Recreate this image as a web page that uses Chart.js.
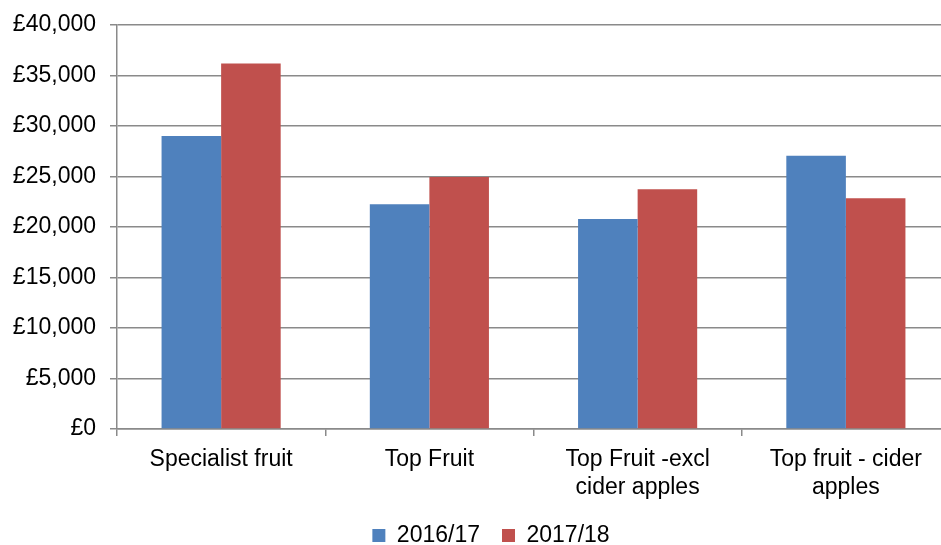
<!DOCTYPE html>
<html>
<head>
<meta charset="utf-8">
<script src="https://cdn.jsdelivr.net/npm/chart.js@4/dist/chart.umd.min.js"></script>
<style>
	html, body { margin: 0; padding: 0; background: #fff; overflow: hidden; }
	#wrap { width: 941px; height: 545px; overflow: hidden; }
	#box { width: 980px; height: 545px; }
</style>
</head>
<body>
<div id="wrap"><div id="box"><canvas id="chart"></canvas></div></div>
<script>
const categories = [
	"Specialist fruit",
	"Top Fruit",
	["Top Fruit -excl", "cider apples"],
	["Top fruit - cider", "apples"]
];
const seriesNames = ["2016/17", "2017/18"];
const values2016 = [29000, 22250, 20800, 27050];
const values2017 = [36200, 24950, 23750, 22850];
const yTicks = [0, 5000, 10000, 15000, 20000, 25000, 30000, 35000, 40000];

const gridColor = "#8a8a8a";
const fontFamily = "'Liberation Sans', Arial, sans-serif";

Chart.defaults.font.family = fontFamily;
Chart.defaults.color = "#000";

// the legend sits centred under the whole original picture, not only the plot
const shiftLegend = {
	id: "shiftLegend",
	afterLayout(chart) {
		chart.legend.left += 16;
		chart.legend.right += 16;
	}
};

const ctx = document.getElementById("chart").getContext("2d");
new Chart(ctx, {
	type: "bar",
	data: {
		labels: categories,
		datasets: [{
			label: seriesNames[0],
			data: values2016,
			backgroundColor: "#4f81bd",
			categoryPercentage: 0.572,
			barPercentage: 1.0
		}, {
			label: seriesNames[1],
			data: values2017,
			backgroundColor: "#c0504d",
			categoryPercentage: 0.572,
			barPercentage: 1.0
		}]
	},
	plugins: [shiftLegend],
	options: {
		responsive: true,
		maintainAspectRatio: false,
		animation: false,
		layout: {
			padding: { left: 0, right: 30, top: 25, bottom: -12 }
		},
		plugins: {
			tooltip: { enabled: false },
			legend: {
				position: "bottom",
				labels: {
					boxWidth: 13,
					boxHeight: 13,
					padding: 22,
					font: { size: 23 }
				}
			}
		},
		scales: {
			x: {
				grid: {
					drawOnChartArea: false,
					drawTicks: true,
					tickLength: 7,
					color: gridColor,
					lineWidth: 1.5
				},
				border: { color: gridColor, width: 1.5 },
				ticks: {
					font: { size: 23 },
					padding: 10,
					maxRotation: 0,
					autoSkip: false
				},
				afterFit: function (scale) {
					scale.height = 73;
				}
			},
			y: {
				min: 0,
				max: 40000,
				afterBuildTicks: function (scale) {
					scale.ticks = yTicks.map(v => ({ value: v }));
				},
				grid: {
					color: gridColor,
					lineWidth: 1.5,
					tickLength: 7
				},
				border: { color: gridColor, width: 1.5 },
				ticks: {
					font: { size: 23 },
					padding: 14,
					callback: function (value) {
						return "£" + value.toLocaleString("en-GB");
					}
				},
				afterFit: function (scale) {
					scale.width = 117;
					scale.paddingTop = 0;
					scale.paddingBottom = 0;
				}
			}
		}
	}
});
</script>
</body>
</html>
